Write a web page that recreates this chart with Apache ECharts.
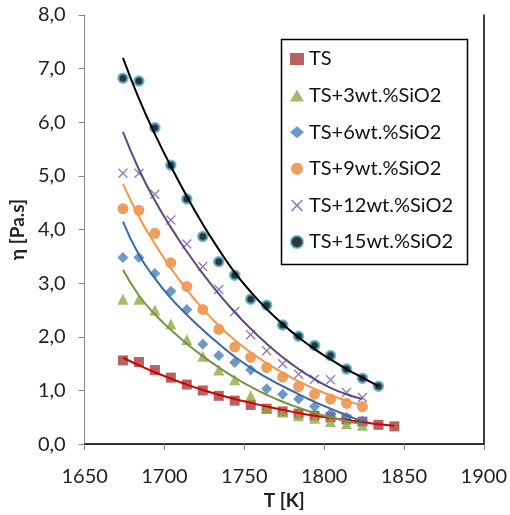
<!DOCTYPE html>
<html>
<head>
<meta charset="utf-8">
<script src="https://cdn.jsdelivr.net/npm/echarts@6/dist/echarts.min.js"></script>
<style>html,body{margin:0;padding:0;background:#fff;}#chart{width:510px;height:515px;}</style>
</head>
<body>
<div id="chart"></div>
<script>
// ---- data ----
const xTicks = [1650, 1700, 1750, 1800, 1850, 1900];
const yTicks = [0, 1, 2, 3, 4, 5, 6, 7, 8];

const T18 = [1674,1684,1694,1704,1714,1724,1734,1744,1754,1764,1774,1784,1794,1804,1814,1824,1834,1844];
const T17 = [1674,1684,1694,1704,1714,1724,1734,1744,1754,1764,1774,1784,1794,1804,1814,1824,1834];
const T16 = [1674,1684,1694,1704,1714,1724,1734,1744,1754,1764,1774,1784,1794,1804,1814,1824];

const seriesNames = ['TS','TS+3wt.%SiO2','TS+6wt.%SiO2','TS+9wt.%SiO2','TS+12wt.%SiO2','TS+15wt.%SiO2'];

// measured viscosities (Pa.s)
const etaTS   = [1.56,1.53,1.38,1.24,1.11,1.00,0.90,0.81,0.73,0.66,0.61,0.57,0.53,0.50,0.46,0.42,0.36,0.33];
const eta3    = [2.70,2.70,2.50,2.24,1.95,1.64,1.38,1.20,0.90,0.67,0.60,0.53,0.48,0.42,0.38,0.35];
const eta6    = [3.48,3.48,3.18,2.85,2.51,1.86,1.65,1.52,1.38,1.03,0.93,0.84,0.70,0.57,0.50,0.43];
const eta9    = [4.39,4.36,3.93,3.38,2.94,2.51,2.14,1.81,1.62,1.43,1.25,1.07,0.93,0.84,0.76,0.70];
const eta12   = [5.05,5.05,4.66,4.18,3.73,3.31,2.88,2.47,2.04,1.74,1.50,1.30,1.21,1.20,0.96,0.87];
const eta15   = [6.82,6.77,5.90,5.20,4.57,3.87,3.40,3.15,2.70,2.59,2.22,2.01,1.84,1.65,1.40,1.23,1.08];

// fitted curves as drawn in the reference
const fitTS   = [1.61,1.47,1.34,1.22,1.11,1.01,0.92,0.84,0.77,0.70,0.64,0.58,0.53,0.49,0.45,0.41,0.37,0.34];
const fit3    = [3.25,2.77,2.42,2.13,1.87,1.64,1.43,1.24,1.07,0.92,0.79,0.68,0.58,0.50,0.43,0.37];
const fit6    = [4.15,3.53,3.09,2.72,2.41,2.13,1.87,1.63,1.42,1.24,1.08,0.93,0.79,0.66,0.54,0.42];
const fit9    = [4.85,4.24,3.73,3.28,2.88,2.52,2.21,1.94,1.71,1.51,1.33,1.17,1.03,0.91,0.81,0.72];
const fit12   = [5.82,5.12,4.54,4.04,3.59,3.18,2.80,2.46,2.15,1.87,1.62,1.40,1.21,1.05,0.93,0.84];
const fit15   = [7.20,6.44,5.78,5.18,4.62,4.10,3.63,3.20,2.84,2.52,2.24,1.99,1.77,1.58,1.40,1.24,1.08];

// ---- build chart ----
const pair = (xs, ys) => ys.map((v, i) => [xs[i], v]);
const FONT = 'Lato';
const X_PATH = 'path://M0,1 L1,0 L10,9 L9,10 Z M9,0 L10,1 L1,10 L0,9 Z';

const markerDefs = [
  {x: T18, y: etaTS, symbol: 'rect', size: 10, style: {color: '#A63A3A'}},
  {x: T16, y: eta3,  symbol: 'triangle', size: 11, style: {color: '#8BAB47'}},
  {x: T16, y: eta6,  symbol: 'diamond', size: 11, style: {color: '#4A7EBB'}},
  {x: T16, y: eta9,  symbol: 'circle', size: 11, style: {color: '#E8863A'}},
  {x: T16, y: eta12, symbol: X_PATH, size: 10, style: {color: '#7A5FA3'}},
  {x: T17, y: eta15, symbol: 'circle', size: 9, style: {color: '#000000', borderColor: '#4BACC6', borderWidth: 2.5}}
];
const fitDefs = [
  {x: T18, y: fitTS, color: '#D40000'},
  {x: T16, y: fit3,  color: '#77933C'},
  {x: T16, y: fit6,  color: '#3A6AA3'},
  {x: T16, y: fit9,  color: '#F79646'},
  {x: T16, y: fit12, color: '#5F4A7E'},
  {x: T17, y: fit15, color: '#000000'}
];

const series = [];
markerDefs.forEach((m, i) => {
  series.push({
    name: seriesNames[i], type: 'scatter', xAxisIndex: 0, yAxisIndex: 0,
    symbol: m.symbol, symbolSize: m.size, symbolKeepAspect: true,
    itemStyle: m.style, data: pair(m.x, m.y), z: 3, silent: true
  });
});
fitDefs.forEach((f, i) => {
  series.push({
    name: 'fit ' + seriesNames[i], type: 'line', xAxisIndex: 0, yAxisIndex: 0,
    showSymbol: false, symbol: 'none', smooth: 0.5,
    lineStyle: {color: f.color, width: 2}, data: pair(f.x, f.y), z: 4, silent: true
  });
});

const chart = echarts.init(document.getElementById('chart'), null, {renderer: 'canvas'});
chart.setOption({
  animation: false,
  backgroundColor: '#fff',
  grid: {left: 82, top: 15, right: 25, bottom: 66, containLabel: false},
  xAxis: [{
    type: 'value', min: xTicks[0], max: xTicks[xTicks.length - 1], interval: xTicks[1] - xTicks[0],
    name: 'T [K]', nameLocation: 'middle', nameGap: 43,
    nameTextStyle: {fontFamily: FONT, fontSize: 19, fontWeight: 'bold', color: '#222'},
    axisLine: {lineStyle: {color: '#868686', width: 1}},
    axisTick: {show: true, length: 6, lineStyle: {color: '#868686'}},
    axisLabel: {fontFamily: FONT, fontSize: 20, color: '#222', margin: 22, formatter: v => String(v)},
    splitLine: {show: false}
  }, {
    type: 'value', position: 'top', min: xTicks[0], max: xTicks[xTicks.length - 1],
    axisLine: {lineStyle: {color: '#000', width: 1.5}},
    axisTick: {show: false}, axisLabel: {show: false}, splitLine: {show: false}
  }],
  yAxis: [{
    type: 'value', min: yTicks[0], max: yTicks[yTicks.length - 1], interval: yTicks[1] - yTicks[0],
    name: 'η [Pa.s]', nameLocation: 'middle', nameGap: 52, nameRotate: 90,
    nameTextStyle: {fontFamily: FONT, fontSize: 19, fontWeight: 'bold', color: '#222'},
    axisLine: {show: true, lineStyle: {color: '#868686', width: 1}},
    axisTick: {show: true, length: 6, lineStyle: {color: '#868686'}},
    axisLabel: {fontFamily: FONT, fontSize: 20, color: '#222', margin: 19,
      formatter: v => v.toFixed(1).replace('.', ',')},
    splitLine: {show: false}
  }, {
    type: 'value', position: 'right', min: yTicks[0], max: yTicks[yTicks.length - 1],
    axisLine: {show: true, lineStyle: {color: '#000', width: 1.5}},
    axisTick: {show: false}, axisLabel: {show: false}, splitLine: {show: false}
  }],
  legend: {
    orient: 'vertical', left: 279, top: 37,
    padding: [12, 12, 10, 11],
    itemWidth: 14, itemHeight: 12, itemGap: 16.6,
    textStyle: {fontFamily: FONT, fontSize: 20, color: '#111', lineHeight: 20},
    data: seriesNames,
    selectedMode: false
  },
  graphic: [{
    type: 'rect', left: 279, top: 37, z: 100, silent: true,
    shape: {width: 186, height: 225},
    style: {fill: 'none', stroke: '#000', lineWidth: 1.5}
  }],
  series: series
});
</script>
</body>
</html>
